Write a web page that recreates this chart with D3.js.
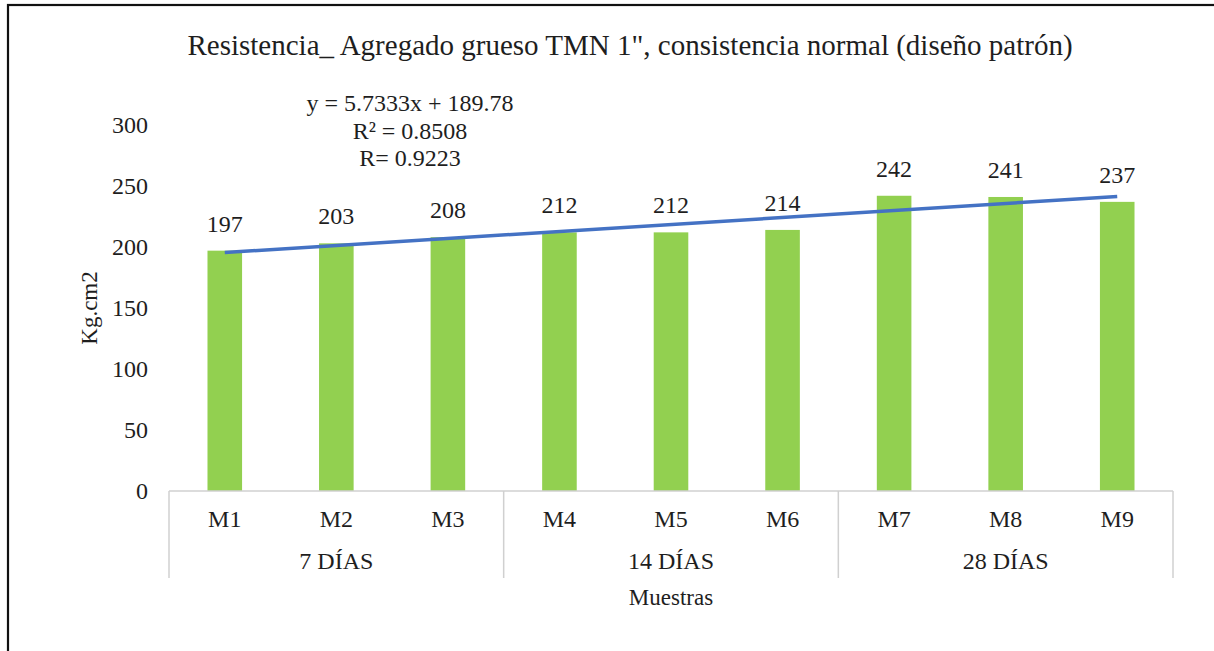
<!DOCTYPE html>
<html>
<head>
<meta charset="utf-8">
<script src="https://cdn.jsdelivr.net/npm/d3@7"></script>
<style>
  html, body { margin: 0; padding: 0; background: #fff; }
  svg { display: block; }
</style>
</head>
<body>
<svg id="chart" width="1214" height="651" font-family="'Liberation Serif', 'DejaVu Serif', serif"></svg>
<script>
// Compressive strength per sample, grouped by curing age
const samples = ["M1", "M2", "M3", "M4", "M5", "M6", "M7", "M8", "M9"];
const strength = [197, 203, 208, 212, 212, 214, 242, 241, 237];
const groups = ["7 DÍAS", "14 DÍAS", "28 DÍAS"];
const groupOf = [0, 0, 0, 1, 1, 1, 2, 2, 2];
const yTicks = [0, 50, 100, 150, 200, 250, 300];
// Linear trend fitted over sample index (1..9)
const trendSlope = 5.7333;
const trendIntercept = 189.78;
const trendText = ["y = 5.7333x + 189.78", "R² = 0.8508", "R= 0.9223"];
const title = "Resistencia_ Agregado grueso TMN 1\", consistencia normal (diseño patrón)";

const SERIF = "Liberation Serif";
const ink = "#1e1e1e";
const svg = d3.select("#chart");

function txt(sel, size) {
  return sel.attr("font-family", SERIF).attr("font-size", size).attr("fill", ink);
}

// outer frame
svg.append("rect")
  .attr("x", 8).attr("y", 5)
  .attr("width", 1220).attr("height", 660)
  .attr("fill", "none").attr("stroke", "#111").attr("stroke-width", 2.2);

const plotLeft = 169, plotRight = 1173, plotTop = 125, plotBottom = 491;

const x = d3.scaleBand().domain(samples).range([plotLeft, plotRight]).paddingInner(0.69).paddingOuter(0.345);
const y = d3.scaleLinear().domain([0, 300]).range([plotBottom, plotTop]);

// title
txt(svg.append("text"), 29)
  .attr("x", 630).attr("y", 55)
  .attr("text-anchor", "middle")
  .text(title);

// y axis tick labels
const yAxis = d3.axisLeft(y).tickValues(yTicks).tickSize(0).tickPadding(0);
const gy = svg.append("g").attr("transform", `translate(${plotLeft - 21},0)`).call(yAxis);
gy.attr("font-family", SERIF);
gy.select(".domain").remove();
txt(gy.selectAll("text"), 24)
  .attr("text-anchor", "end")
  .attr("dy", "0.3em");

// bars
svg.append("g").selectAll("rect")
  .data(samples)
  .join("rect")
  .attr("x", d => x(d))
  .attr("width", x.bandwidth())
  .attr("y", (d, i) => y(strength[i]))
  .attr("height", (d, i) => y(0) - y(strength[i]))
  .attr("fill", "#92d050");

// value labels
txt(svg.append("g").selectAll("text")
  .data(samples)
  .join("text"), 24)
  .attr("x", d => x(d) + x.bandwidth() / 2)
  .attr("y", (d, i) => y(strength[i]) - 19)
  .attr("text-anchor", "middle")
  .text((d, i) => strength[i]);

// trend line
const trendPts = samples.map((d, i) => [x(d) + x.bandwidth() / 2, y(trendSlope * (i + 1) + trendIntercept)]);
svg.append("path")
  .attr("d", d3.line()([trendPts[0], trendPts[trendPts.length - 1]]))
  .attr("stroke", "#4472c4")
  .attr("stroke-width", 3.5)
  .attr("fill", "none");

// trend equation
txt(svg.append("g").selectAll("text")
  .data(trendText)
  .join("text"), 24)
  .attr("x", 410)
  .attr("y", (d, i) => 111 + i * 27.5)
  .attr("text-anchor", "middle")
  .text(d => d);

// category axis: baseline and group separators
const axisColor = "#d0d0d0";
svg.append("line")
  .attr("x1", plotLeft).attr("x2", plotRight)
  .attr("y1", plotBottom).attr("y2", plotBottom)
  .attr("stroke", axisColor).attr("stroke-width", 1.5);

const groupBounds = groups.map((g, gi) => {
  const idx = samples.filter((s, i) => groupOf[i] === gi);
  const step = x.step();
  const x0 = x(idx[0]) + x.bandwidth() / 2 - step / 2;
  const x1 = x(idx[idx.length - 1]) + x.bandwidth() / 2 + step / 2;
  return [x0, x1];
});
const sepXs = [groupBounds[0][0], ...groupBounds.map(b => b[1])];
svg.append("g").selectAll("line")
  .data(sepXs)
  .join("line")
  .attr("x1", d => d).attr("x2", d => d)
  .attr("y1", plotBottom).attr("y2", 578)
  .attr("stroke", axisColor).attr("stroke-width", 1.5);

// sample labels
txt(svg.append("g").selectAll("text")
  .data(samples)
  .join("text"), 24)
  .attr("x", d => x(d) + x.bandwidth() / 2)
  .attr("y", 527)
  .attr("text-anchor", "middle")
  .text(d => d);

// group labels
txt(svg.append("g").selectAll("text")
  .data(groups)
  .join("text"), 24)
  .attr("x", (d, i) => (groupBounds[i][0] + groupBounds[i][1]) / 2)
  .attr("y", 569)
  .attr("text-anchor", "middle")
  .text(d => d);

// axis titles
txt(svg.append("text"), 23)
  .attr("x", 671).attr("y", 605)
  .attr("text-anchor", "middle")
  .text("Muestras");

txt(svg.append("text"), 23)
  .attr("transform", "translate(97,308) rotate(-90)")
  .attr("text-anchor", "middle")
  .text("Kg.cm2");
</script>
</body>
</html>
